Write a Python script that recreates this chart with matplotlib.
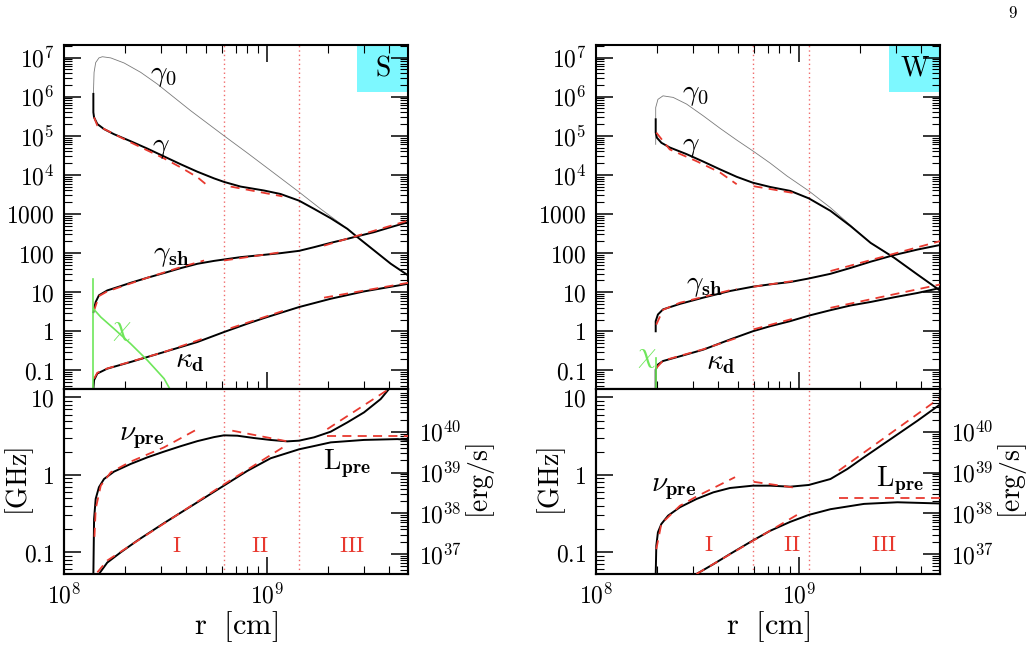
import numpy as np
import matplotlib
matplotlib.use("Agg")
import matplotlib.pyplot as plt
from matplotlib.ticker import FixedLocator, FixedFormatter, LogLocator, NullFormatter

plt.rcParams['mathtext.fontset'] = 'cm'
plt.rcParams['font.family'] = ['DejaVu Serif']

# ---------------- datos (log10 r [cm], log10 valor) ----------------
# Panel S, arriba
S_g0_lr = [8.1445, 8.148, 8.156, 8.172, 8.189, 8.230, 8.296, 8.378, 8.460, 8.542, 8.624, 8.706,
           8.788, 8.903, 9.018, 9.158, 9.264, 9.363, 9.440, 9.527, 9.609, 9.695]
S_g0_ly = [6.02, 6.62, 6.87, 6.99, 7.02, 6.99, 6.86, 6.62, 6.32, 5.98, 5.64, 5.32,
           5.00, 4.56, 4.11, 3.56, 3.13, 2.75, 2.43, 2.07, 1.73, 1.43]
S_gam_lr = [8.1445, 8.1445, 8.148, 8.164, 8.197, 8.246, 8.328, 8.411, 8.493, 8.575, 8.657, 8.739,
            8.788, 8.870, 8.985, 9.067, 9.158, 9.232, 9.314, 9.396, 9.440, 9.527, 9.609, 9.695]
S_gam_ly = [6.07, 5.60, 5.47, 5.30, 5.17, 5.04, 4.86, 4.67, 4.47, 4.27, 4.08, 3.91,
            3.82, 3.70, 3.60, 3.51, 3.34, 3.13, 2.89, 2.62, 2.43, 2.07, 1.73, 1.43]
S_gam_fit = [([8.148, 8.164, 8.328, 8.493, 8.575, 8.657, 8.706], [5.47, 5.26, 4.83, 4.42, 4.19, 3.94, 3.73]),
             ([8.821, 9.076], [3.70, 3.45])]
S_gsh_lr = [8.1445, 8.148, 8.156, 8.172, 8.213, 8.279, 8.328, 8.411, 8.493, 8.575, 8.657, 8.739,
            8.788, 8.870, 8.985, 9.067, 9.158, 9.232, 9.314, 9.396, 9.440, 9.527, 9.609, 9.695]
S_gsh_ly = [0.49, 0.58, 0.75, 0.92, 1.045, 1.155, 1.24, 1.37, 1.49, 1.615, 1.726, 1.80,
            1.836, 1.896, 1.955, 1.998, 2.057, 2.151, 2.262, 2.364, 2.423, 2.534, 2.662, 2.79]
S_gsh_fit = [([8.148, 8.172, 8.213, 8.411, 8.575, 8.690], [0.53, 0.90, 1.02, 1.37, 1.64, 1.81]),
             ([8.788, 9.067], [1.81, 2.02]),
             ([9.281, 9.695], [2.19, 2.83])]
S_kap_lr = [8.1445, 8.148, 8.164, 8.213, 8.328, 8.493, 8.657, 8.788, 8.903, 8.985, 9.158, 9.314, 9.478, 9.695]
S_kap_ly = [-1.48, -1.25, -1.08, -0.955, -0.785, -0.53, -0.274, -0.019, 0.194, 0.338, 0.62, 0.832, 1.02, 1.215]
S_kap_fit = [([8.148, 8.164, 8.213, 8.493, 8.706], [-1.21, -1.06, -0.95, -0.53, -0.15]),
             ([8.821, 9.084], [0.08, 0.53]),
             ([9.281, 9.695], [0.86, 1.24])]
S_chi_lr = [8.1445, 8.181, 8.246, 8.328, 8.411, 8.493, 8.522]
S_chi_ly = [0.577, 0.364, 0.066, -0.317, -0.743, -1.21, -1.48]
S_chi_vert = [1.34, -1.6]
# Panel S, abajo (nu en GHz, L en erg/s)
S_nu_lr = [8.1445, 8.148, 8.156, 8.172, 8.197, 8.246, 8.328, 8.411, 8.493, 8.575, 8.657, 8.739,
           8.788, 8.854, 8.936, 9.018, 9.100, 9.158, 9.232, 9.314, 9.396, 9.478, 9.560, 9.601]
S_nu_ly = [-1.30, -0.57, -0.31, -0.16, -0.054, 0.041, 0.14, 0.226, 0.30, 0.37, 0.435, 0.487,
           0.510, 0.505, 0.475, 0.45, 0.432, 0.441, 0.484, 0.557, 0.677, 0.806, 0.978, 1.108]
S_nu_fit = [([8.150, 8.156, 8.181, 8.230, 8.328, 8.493, 8.657], [-0.80, -0.44, -0.14, 0.032, 0.17, 0.355, 0.59]),
            ([8.829, 9.100], [0.57, 0.432]),
            ([9.297, 9.601], [0.59, 1.108])]
S_L_lr = [8.172, 8.213, 8.279, 8.361, 8.493, 8.657, 8.788, 8.903, 9.018, 9.158, 9.232, 9.314, 9.478, 9.642, 9.695]
S_L_ly = [36.51, 36.79, 37.04, 37.33, 37.76, 38.27, 38.68, 39.04, 39.35, 39.57, 39.65, 39.74, 39.80, 39.82, 39.80]
S_L_fit = [([8.164, 8.213, 8.788, 9.092], [36.55, 36.84, 38.71, 39.66]),
           ([9.297, 9.695], [39.90, 39.90])]
S_bounds = [8.788, 9.157]

# Panel W, arriba
W_g0_lr = [8.294, 8.294, 8.305, 8.330, 8.380, 8.446, 8.528, 8.611, 8.693, 8.776, 8.858, 8.941,
           9.048, 9.155, 9.254, 9.353, 9.469, 9.584, 9.698]
W_g0_ly = [4.78, 5.72, 5.93, 6.02, 5.98, 5.81, 5.51, 5.19, 4.89, 4.60, 4.30, 3.97,
           3.59, 3.16, 2.71, 2.26, 1.88, 1.45, 1.03]
W_gam_lr = [8.294, 8.294, 8.300, 8.322, 8.363, 8.446, 8.528, 8.611, 8.693, 8.772, 8.858, 8.957,
            9.048, 9.155, 9.254, 9.353, 9.469, 9.584, 9.698]
W_gam_ly = [5.42, 5.08, 4.95, 4.82, 4.70, 4.53, 4.34, 4.14, 3.95, 3.80, 3.69, 3.59,
            3.40, 3.08, 2.69, 2.26, 1.88, 1.45, 1.03]
W_gam_fit = [([8.297, 8.363, 8.495, 8.611, 8.693], [5.08, 4.65, 4.35, 4.06, 3.76]),
             ([8.776, 8.990], [3.71, 3.52])]
W_gsh_lr = [8.294, 8.294, 8.305, 8.330, 8.413, 8.528, 8.660, 8.772, 8.858, 8.957, 9.048, 9.155,
            9.254, 9.353, 9.469, 9.584, 9.698]
W_gsh_ly = [0.0, 0.26, 0.43, 0.56, 0.70, 0.86, 1.03, 1.14, 1.20, 1.26, 1.35, 1.47,
            1.62, 1.78, 1.95, 2.09, 2.21]
W_gsh_fit = [([8.297, 8.330, 8.413, 8.660, 8.693], [0.17, 0.55, 0.73, 1.05, 1.08]),
             ([8.776, 8.990], [1.14, 1.30]),
             ([9.155, 9.698], [1.54, 2.31])]
W_kap_lr = [8.294, 8.294, 8.305, 8.330, 8.413, 8.528, 8.660, 8.772, 8.858, 8.957, 9.048, 9.155,
            9.254, 9.353, 9.469, 9.584, 9.698]
W_kap_ly = [-1.46, -0.98, -0.85, -0.76, -0.64, -0.47, -0.21, 0.0, 0.13, 0.26, 0.40, 0.54,
            0.66, 0.75, 0.87, 0.98, 1.11]
W_kap_fit = [([8.297, 8.330, 8.528, 8.693], [-0.94, -0.75, -0.46, -0.17]),
             ([8.776, 8.990], [0.05, 0.35]),
             ([9.155, 9.698], [0.60, 1.20])]
W_chi_vert = [-0.68, -1.6]
# Panel W, abajo
W_nu_lr = [8.294, 8.297, 8.305, 8.322, 8.355, 8.413, 8.495, 8.578, 8.660, 8.772, 8.858, 8.957,
           9.048, 9.155, 9.238, 9.320, 9.452, 9.584, 9.698]
W_nu_ly = [-1.30, -0.914, -0.742, -0.634, -0.527, -0.419, -0.312, -0.226, -0.17, -0.14, -0.14, -0.153,
           -0.131, -0.054, 0.075, 0.226, 0.462, 0.699, 0.914]
W_nu_fit = [([8.297, 8.322, 8.413, 8.495, 8.685], [-0.96, -0.63, -0.40, -0.28, -0.03]),
            ([8.776, 8.990], [-0.09, -0.17]),
            ([9.196, 9.698], [0.054, 1.0])]
W_L_lr = [8.495, 8.578, 8.660, 8.772, 8.858, 8.957, 9.048, 9.155, 9.320, 9.485, 9.698]
W_L_ly = [36.51, 36.75, 37.0, 37.33, 37.57, 37.79, 37.96, 38.10, 38.23, 38.27, 38.24]
W_L_fit = [([8.495, 8.990], [36.51, 37.96]),
           ([9.196, 9.698], [38.37, 38.37])]
W_bounds = [8.772, 9.051]

# etiquetas de ejes
top_ticks = [0.1, 1, 10, 100, 1000, 1e4, 1e5, 1e6, 1e7]
top_labels = [r'$0.1$', r'$1$', r'$10$', r'$100$', r'$1000$', r'$10^4$', r'$10^5$', r'$10^6$', r'$10^7$']
nu_ticks = [0.1, 1, 10]
nu_labels = [r'$0.1$', r'$1$', r'$10$']
L_ticks = [1e37, 1e38, 1e39, 1e40]
L_labels = [r'$10^{37}$', r'$10^{38}$', r'$10^{39}$', r'$10^{40}$']
x_ticks = [1e8, 1e9]
x_labels = [r'$10^8$', r'$10^9$']

BLACK = 'black'
RED = '#e8392f'
GRAY = '#7a7a7a'
GREEN = '#6ee65a'
CYAN = '#7df8ff'
XLIM = (1e8, 10 ** 9.695)
TICK_FS = 17


def p(lr):
    return 10 ** np.asarray(lr, dtype=float)


def estilo(ax, right=True, top=True, bottom=True):
    for s in ax.spines.values():
        s.set_linewidth(1.5)
    ax.tick_params(which='major', direction='in', length=12, width=1.1,
                   top=top, right=right, bottom=bottom, labelsize=TICK_FS, pad=7)
    ax.tick_params(which='minor', direction='in', length=6, width=0.8,
                   top=top, right=right, bottom=bottom)
    ax.xaxis.set_minor_locator(LogLocator(base=10, subs=np.arange(2, 10), numticks=20))
    ax.xaxis.set_minor_formatter(NullFormatter())


def ajustes(ax, fits):
    for lr, ly in fits:
        ax.plot(p(lr), p(ly), color=RED, lw=1.3, dashes=(5, 3.5), zorder=4)


def panel(x0, nombre, d):
    ax = fig.add_axes([x0, 0.4043, 0.3337, 0.5268])
    axb = fig.add_axes([x0, 0.121, 0.3337, 0.2833], sharex=ax)
    ax.set_xscale('log')
    ax.set_yscale('log')
    axb.set_yscale('log')
    ax.set_xlim(*XLIM)
    ax.set_ylim(10 ** -1.475, 10 ** 7.32)
    axb.set_ylim(10 ** -1.28, 10 ** 1.108)

    # curvas de arriba
    ax.plot(p(d['g0'][0]), p(d['g0'][1]), color=GRAY, lw=0.6, zorder=2)
    for key in ['gam', 'gsh', 'kap']:
        ax.plot(p(d[key][0]), p(d[key][1]), color=BLACK, lw=1.4, zorder=3)
        ajustes(ax, d[key + '_fit'])
    x_chi = p([d['gam'][0][0]] * 2)
    ax.plot(x_chi, p(d['chi_vert']), color=GREEN, lw=1.2, zorder=5)
    if d.get('chi') is not None:
        ax.plot(p(d['chi'][0]), p(d['chi'][1]), color=GREEN, lw=1.2, zorder=5)

    # curvas de abajo
    axL = axb.twinx()
    axL.set_yscale('log')
    axL.set_ylim(10 ** 36.51, 10 ** 41.05)
    axb.plot(p(d['nu'][0]), p(d['nu'][1]), color=BLACK, lw=1.4, zorder=3)
    ajustes(axb, d['nu_fit'])
    axL.plot(p(d['L'][0]), p(d['L'][1]), color=BLACK, lw=1.4, zorder=3)
    ajustes(axL, d['L_fit'])

    for b in d['bounds']:
        for a in (ax, axb):
            a.axvline(10 ** b, color='#f06a6a', lw=1.0, ls=(0, (1, 2.2)), zorder=1)

    # ejes y marcas
    estilo(ax)
    ax.yaxis.set_major_locator(FixedLocator(top_ticks))
    ax.yaxis.set_major_formatter(FixedFormatter(top_labels))
    ax.yaxis.set_minor_locator(LogLocator(base=10, subs=np.arange(2, 10), numticks=20))
    ax.yaxis.set_minor_formatter(NullFormatter())
    ax.tick_params(axis='x', labelbottom=False)

    estilo(axb, right=False, top=False)
    axb.yaxis.set_major_locator(FixedLocator(nu_ticks))
    axb.yaxis.set_major_formatter(FixedFormatter(nu_labels))
    axb.yaxis.set_minor_locator(LogLocator(base=10, subs=np.arange(2, 10), numticks=20))
    axb.yaxis.set_minor_formatter(NullFormatter())
    axb.xaxis.set_major_locator(FixedLocator(x_ticks))
    axb.xaxis.set_major_formatter(FixedFormatter(x_labels))
    axb.set_xlim(*XLIM)

    for s in axL.spines.values():
        s.set_linewidth(1.5)
    axL.tick_params(which='major', direction='in', length=12, width=1.1, labelsize=TICK_FS, pad=8)
    axL.tick_params(which='minor', direction='in', length=6, width=0.8)
    axL.yaxis.set_major_locator(FixedLocator(L_ticks))
    axL.yaxis.set_major_formatter(FixedFormatter(L_labels))
    axL.yaxis.set_minor_locator(LogLocator(base=10, subs=np.arange(2, 10), numticks=20))
    axL.yaxis.set_minor_formatter(NullFormatter())

    axb.set_xlabel(r'$\mathrm{r\ \ [cm]}$', fontsize=22, labelpad=0)
    axb.set_ylabel(r'$\mathrm{[GHz]}$', fontsize=20, va='center')
    axb.yaxis.set_label_coords(-0.128, 0.5)
    axL.set_ylabel(r'$\mathrm{[erg/s]}$', fontsize=20, va='center')
    axL.yaxis.set_label_coords(1.21, 0.5)

    # recuadro de nombre
    ax.add_patch(plt.Rectangle((0.852, 0.864), 0.148, 0.136, transform=ax.transAxes,
                               facecolor=CYAN, edgecolor='none', zorder=0))
    ax.text(0.927, 0.932, r'$\mathrm{%s}$' % nombre, transform=ax.transAxes,
            ha='center', va='center', fontsize=20, zorder=6)

    # etiquetas de curvas
    for (lx, ly, txt, col, fs) in d['labels']:
        ax.text(10 ** lx, 10 ** ly, txt, ha='center', va='center', fontsize=fs, color=col, zorder=6)
    for (lx, ly, txt, col, fs) in d['labels_b']:
        axb.text(10 ** lx, 10 ** ly, txt, ha='center', va='center', fontsize=fs, color=col, zorder=6)
    return ax, axb, axL


fig = plt.figure(figsize=(10.31, 6.53), dpi=100)

S = dict(g0=(S_g0_lr, S_g0_ly), gam=(S_gam_lr, S_gam_ly), gam_fit=S_gam_fit,
         gsh=(S_gsh_lr, S_gsh_ly), gsh_fit=S_gsh_fit, kap=(S_kap_lr, S_kap_ly), kap_fit=S_kap_fit,
         chi=(S_chi_lr, S_chi_ly), chi_vert=S_chi_vert,
         nu=(S_nu_lr, S_nu_ly), nu_fit=S_nu_fit, L=(S_L_lr, S_L_ly), L_fit=S_L_fit, bounds=S_bounds,
         labels=[(8.49, 6.56, r'$\gamma_{\mathbf{0}}$', BLACK, 21),
                 (8.476, 4.72, r'$\gamma$', BLACK, 21),
                 (8.53, 1.96, r'$\gamma_{\mathbf{sh}}$', BLACK, 21),
                 (8.621, -0.74, r'$\kappa_{\mathbf{d}}$', BLACK, 21),
                 (8.284, 0.07, r'$\chi$', GREEN, 21)],
         labels_b=[(8.383, 0.487, r'$\nu_{\mathbf{pre}}$', BLACK, 21),
                   (9.393, 0.137, r'$\mathrm{L}_{\mathbf{pre}}$', BLACK, 20),
                   (8.555, -0.92, r'$\mathrm{I}$', RED, 16),
                   (8.962, -0.92, r'$\mathrm{II}$', RED, 16),
                   (9.42, -0.92, r'$\mathrm{III}$', RED, 16)])

W = dict(g0=(W_g0_lr, W_g0_ly), gam=(W_gam_lr, W_gam_ly), gam_fit=W_gam_fit,
         gsh=(W_gsh_lr, W_gsh_ly), gsh_fit=W_gsh_fit, kap=(W_kap_lr, W_kap_ly), kap_fit=W_kap_fit,
         chi=None, chi_vert=W_chi_vert,
         nu=(W_nu_lr, W_nu_ly), nu_fit=W_nu_fit, L=(W_L_lr, W_L_ly), L_fit=W_L_fit, bounds=W_bounds,
         labels=[(8.49, 6.06, r'$\gamma_{\mathbf{0}}$', BLACK, 21),
                 (8.465, 4.74, r'$\gamma$', BLACK, 21),
                 (8.531, 1.18, r'$\gamma_{\mathbf{sh}}$', BLACK, 21),
                 (8.614, -0.78, r'$\kappa_{\mathbf{d}}$', BLACK, 21),
                 (8.251, -0.62, r'$\chi$', GREEN, 21)],
         labels_b=[(8.383, -0.17, r'$\nu_{\mathbf{pre}}$', BLACK, 21),
                   (9.50, -0.08, r'$\mathrm{L}_{\mathbf{pre}}$', BLACK, 20),
                   (8.556, -0.905, r'$\mathrm{I}$', RED, 16),
                   (8.964, -0.905, r'$\mathrm{II}$', RED, 16),
                   (9.42, -0.905, r'$\mathrm{III}$', RED, 16)])

panel(0.0621, 'S', S)
panel(0.5781, 'W', W)

fig.text(1013 / 1031, 1 - 13 / 653, r'$9$', fontsize=12, ha='center', va='center')

fig.savefig('out.png', dpi=100)
